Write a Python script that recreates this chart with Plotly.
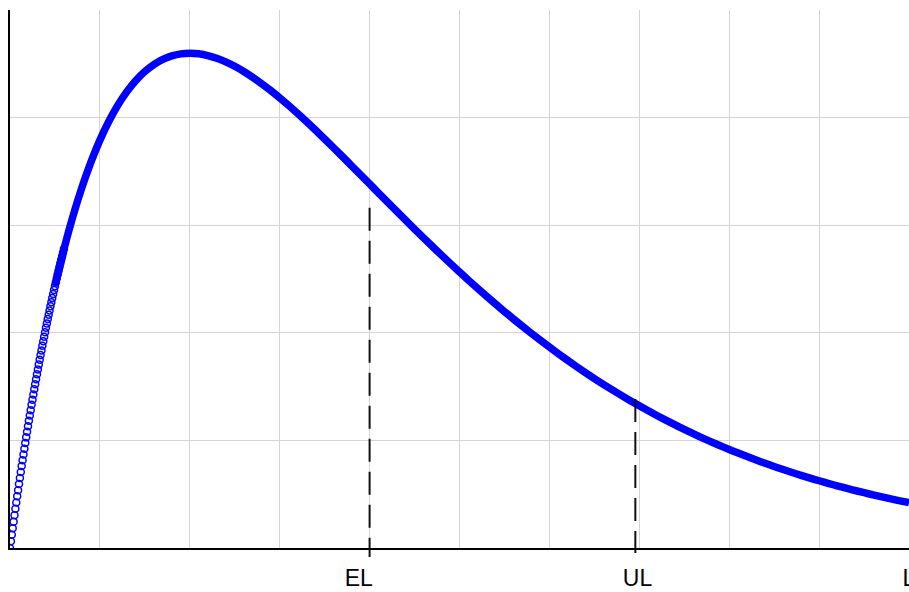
import plotly.graph_objects as go

# Density curve sampled on a 0.1 grid over [0, 10]
curve_x = [round(0.1 * i, 1) for i in range(101)]
curve_y = [
    0.0, 0.023781, 0.045242, 0.064553, 0.081873, 0.097350, 0.111123, 0.123320, 0.134064, 0.143466,
    0.151633, 0.158661, 0.164644, 0.169665, 0.173805, 0.177138, 0.179732, 0.181651, 0.182957, 0.183702,
    0.183940, 0.183717, 0.183079, 0.182066, 0.180716, 0.179066, 0.177146, 0.174987, 0.172618, 0.170063,
    0.167348, 0.164492, 0.161518, 0.158441, 0.155281, 0.152052, 0.148769, 0.145444, 0.142091, 0.138717,
    0.135335, 0.131953, 0.128579, 0.125220, 0.121883, 0.118574, 0.115298, 0.112059, 0.108862, 0.105710,
    0.102606, 0.099555, 0.096556, 0.093613, 0.090728, 0.087901, 0.085134, 0.082428, 0.079783, 0.077202,
    0.074681, 0.072222, 0.069826, 0.067492, 0.065219, 0.063008, 0.060857, 0.058766, 0.056734, 0.054762,
    0.052845, 0.050987, 0.049183, 0.047434, 0.045739, 0.044096, 0.042505, 0.040964, 0.039472, 0.038029,
    0.036632, 0.035280, 0.033975, 0.032710, 0.031492, 0.030311, 0.029173, 0.028073, 0.027009, 0.025986,
    0.024995, 0.024040, 0.023120, 0.022232, 0.021373, 0.020549, 0.019752, 0.018983, 0.018245, 0.017530,
    0.016845,
]

# Finer samples (0.01 apart) of the steep rise near the origin
start_x = [
    0.00, 0.01, 0.02, 0.03, 0.04, 0.05, 0.06, 0.07, 0.08, 0.09,
    0.10, 0.11, 0.12, 0.13, 0.14, 0.15, 0.16, 0.17, 0.18, 0.19,
    0.20, 0.21, 0.22, 0.23, 0.24, 0.25, 0.26, 0.27, 0.28, 0.29,
    0.30, 0.31, 0.32, 0.33, 0.34, 0.35, 0.36, 0.37, 0.38, 0.39,
    0.40, 0.41, 0.42, 0.43, 0.44, 0.45, 0.46, 0.47, 0.48, 0.49,
    0.50, 0.51, 0.52, 0.53, 0.54, 0.55, 0.56, 0.57, 0.58, 0.59,
    0.60,
]
start_y = [
    0.0, 0.002488, 0.004950, 0.007388, 0.009802, 0.012191, 0.014557, 0.016898, 0.019216, 0.021510,
    0.023781, 0.026028, 0.028253, 0.030455, 0.032634, 0.034790, 0.036925, 0.039037, 0.041127, 0.043195,
    0.045242, 0.047267, 0.049271, 0.051254, 0.053215, 0.055156, 0.057076, 0.058976, 0.060855, 0.062714,
    0.064553, 0.066372, 0.068172, 0.069951, 0.071712, 0.073452, 0.075174, 0.076877, 0.078561, 0.080226,
    0.081873, 0.083501, 0.085111, 0.086703, 0.088277, 0.089833, 0.091371, 0.092892, 0.094395, 0.095881,
    0.097350, 0.098802, 0.100237, 0.101655, 0.103056, 0.104441, 0.105810, 0.107162, 0.108498, 0.109818,
    0.111123,
]

# Limits marked on the x axis
limit_names = ["EL", "UL", "L"]
limit_values = [4.0, 6.956, 10.0]
label_positions = [3.88, 6.98, 10.0]

BLUE = "#0000ff"
GRID = "#d4d4d4"

fig = go.Figure()

# thick band for the smooth part of the curve
band_from = 5
fig.add_trace(go.Scatter(
    x=curve_x[band_from:], y=curve_y[band_from:],
    mode="lines", line=dict(color=BLUE, width=7.5, shape="spline"),
    hoverinfo="skip",
))

# open circles along the steep rise
fig.add_trace(go.Scatter(
    x=start_x, y=start_y, mode="markers",
    marker=dict(symbol="circle-open", size=7, color=BLUE, line=dict(width=1.5, color=BLUE)),
    hoverinfo="skip",
))

# dashed markers for EL and UL, running past the axis
dash_tops = [0.6325, 0.277]
dash_bottoms = [-0.0167, -0.0093]
for xv, top, bot in zip(limit_values[:2], dash_tops, dash_bottoms):
    fig.add_shape(
        type="line", xref="x", yref="paper",
        x0=xv, x1=xv, y0=top, y1=bot,
        line=dict(color="#111111", width=2, dash="23px,10px"),
    )

fig.update_layout(
    width=909, height=592,
    margin=dict(l=10, r=0, t=10, b=44, autoexpand=False),
    paper_bgcolor="white", plot_bgcolor="white",
    showlegend=False,
    xaxis=dict(
        range=[0, 10], automargin=False,
        tickmode="array", tickvals=label_positions, ticktext=limit_names,
        ticks="", showgrid=False, zeroline=False,
        showline=True, linecolor="black", linewidth=1.5,
        tickfont=dict(family="Liberation Sans, Arial, sans-serif", size=23, color="black"),
        ticklabelstandoff=9, ticklabeloverflow="allow",
        minor=dict(tickmode="array", tickvals=[1, 2, 3, 4, 5, 6, 7, 8, 9, 10],
                   showgrid=True, gridcolor=GRID, gridwidth=1, ticks=""),
    ),
    yaxis=dict(
        range=[0, 0.2], automargin=False,
        tickmode="array", tickvals=[0.04, 0.08, 0.12, 0.16],
        showticklabels=False, ticks="",
        showgrid=True, gridcolor=GRID, gridwidth=1, zeroline=False,
        showline=True, linecolor="black", linewidth=1.5,
    ),
)

fig.write_html("out.html")
